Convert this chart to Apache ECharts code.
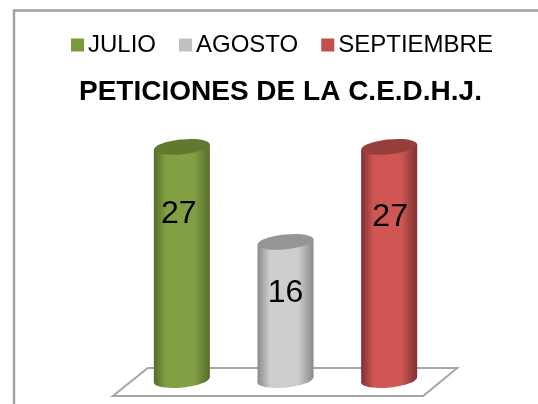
<!DOCTYPE html>
<html><head><meta charset="utf-8">
<style>html,body{margin:0;padding:0;background:#fff}#c{width:538px;height:404px}</style>
<script src="https://cdn.jsdelivr.net/npm/echarts@6/dist/echarts.min.js"></script>
</head><body><div id="c"></div>
<script>
const categories = ['JULIO', 'AGOSTO', 'SEPTIEMBRE'];
const values = [27, 16, 27];
const colors = ['#7A9A3C', '#C0C0C0', '#C0504D'];

const palettes = {
  JULIO: {edge:'#566d2a', mid:'#80a043', top:'#5f7a2e'},
  AGOSTO: {edge:'#8a8a8a', mid:'#cecece', top:'#959595'},
  SEPTIEMBRE: {edge:'#7d3230', mid:'#cf5653', top:'#963e3c'}
};
const labelRise = {JULIO:0.71, AGOSTO:0.625, SEPTIEMBRE:0.70};
const labelShift = {JULIO:-3, AGOSTO:0, SEPTIEMBRE:1};

function cylinder(name){
  const pal = palettes[name];
  return function(params, api){
    const base = api.coord([api.value(0), 0]);
    const top = api.coord([api.value(0), api.value(1)]);
    const r = 28, ry = 7.5, tilt = 0.1;
    const grad = new echarts.graphic.LinearGradient(0,0,1,0,[
      {offset:0, color:pal.edge},{offset:0.22, color:pal.mid},{offset:0.72, color:pal.mid},{offset:1, color:pal.edge}]);
    const cx = base[0], dy = r*Math.sin(tilt);
    return {type:'group', children:[
      {type:'ellipse', shape:{cx:cx, cy:base[1], rx:r, ry:ry}, rotation:tilt, originX:cx, originY:base[1], style:{fill:grad}},
      {type:'polygon', shape:{points:[[cx-r,top[1]+dy],[cx+r,top[1]-dy],[cx+r,base[1]-dy],[cx-r,base[1]+dy]]}, style:{fill:grad}},
      {type:'ellipse', shape:{cx:cx, cy:top[1], rx:r, ry:ry}, rotation:tilt, originX:cx, originY:top[1], style:{fill:pal.top}},
      {type:'text', style:{text:String(api.value(1)), x:cx+labelShift[name], y:base[1]-(base[1]-top[1])*labelRise[name],
        align:'center', verticalAlign:'middle', fill:'#000', font:'32px "Liberation Sans"'}}
    ]};
  };
}

function floor(params, api){
  const a = api.coord([0,0]), b = api.coord([2,0]);
  const y = a[1];
  return {type:'polygon', shape:{points:[[a[0]-69,y+16],[b[0]+34,y+16],[b[0]+68,y-12],[a[0]-34,y-12]]},
    style:{fill:'#fff', stroke:'#a6a6a6', lineWidth:2}};
}

const chart = echarts.init(document.getElementById('c'), null, {renderer:'canvas'});
chart.setOption({
  animation:false,
  backgroundColor:'#fff',
  graphic:[{type:'rect', shape:{x:14,y:10.5,width:600,height:500}, style:{fill:'none',stroke:'#a0a0a0',lineWidth:2.4}, z:-1}],
  title:{text:'PETICIONES DE LA C.E.D.H.J.', left:79, top:78, padding:0,
    textStyle:{fontFamily:'Liberation Sans', fontSize:28, fontWeight:'bold', color:'#000'}},
  legend:{left:71, top:33, padding:0, itemWidth:13, itemHeight:13, itemGap:23, icon:'rect',
    textStyle:{fontFamily:'Liberation Sans', fontSize:24, color:'#000', padding:[0,0,0,-1]},
    data:categories},
  grid:{left:130, width:311, top:121, height:259},
  xAxis:{type:'category', data:categories, show:false},
  yAxis:{type:'value', min:0, max:30, show:false},
  series:[
    {type:'custom', name:'floor', silent:true, z:1, renderItem:floor, data:[[0,0]]},
    ...categories.map((c,i)=>({type:'custom', name:c, z:2, itemStyle:{color:colors[i]}, renderItem:cylinder(c), data:[[i, values[i]]], encode:{x:0,y:1}}))
  ]
});
</script></body></html>
